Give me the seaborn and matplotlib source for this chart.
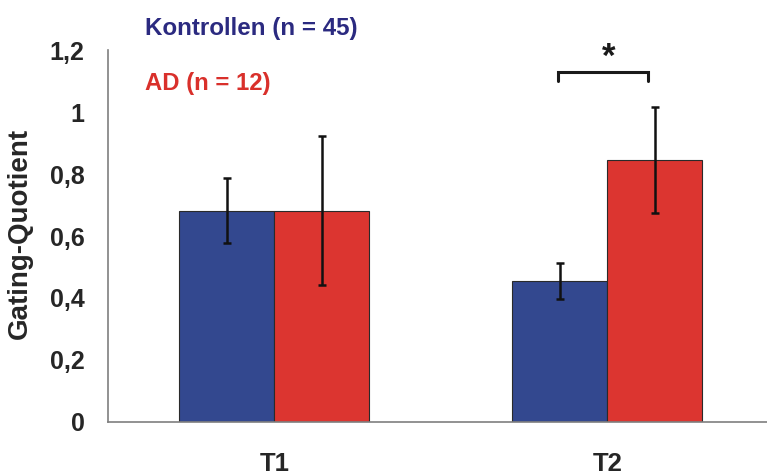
import matplotlib
matplotlib.use("Agg")
import matplotlib.pyplot as plt
import seaborn as sns
import pandas as pd
import numpy as np

# Data
timepoints = ["T1", "T2"]
groups = ["Kontrollen (n = 45)", "AD (n = 12)"]
kontrollen_mean = [0.682, 0.455]
kontrollen_sd = [0.105, 0.058]
ad_mean = [0.682, 0.846]
ad_sd = [0.240, 0.171]
yticks = [0, 0.2, 0.4, 0.6, 0.8, 1.0, 1.2]
ytick_labels = ["0", "0,2", "0,4", "0,6", "0,8", "1", "1,2"]

blue = "#33488f"
red = "#dc3530"
legend_blue = "#2b2a80"
legend_red = "#d9302b"
axis_grey = "#7f7f7f"

df = pd.DataFrame({
    "time": timepoints * 2,
    "group": [groups[0]] * 2 + [groups[1]] * 2,
    "value": kontrollen_mean + ad_mean,
    "sd": kontrollen_sd + ad_sd,
})

sns.set_theme(style="white")
plt.rcParams["font.family"] = ["Liberation Sans", "DejaVu Sans"]
plt.rcParams["font.weight"] = "bold"

fig = plt.figure(figsize=(7.67, 4.76), dpi=100)
ax = fig.add_axes([0.1408, 0.1141, 0.868, 0.7802])

sns.barplot(data=df, x="time", y="value", hue="group", order=timepoints,
            hue_order=groups, palette=[blue, red], width=0.571, gap=0,
            edgecolor="#2a2a2a", linewidth=0.8, errorbar=None, legend=False,
            saturation=1, ax=ax)

# Error bars at the bar centres
for container, grp in zip(ax.containers, groups):
    sub = df[df["group"] == grp].set_index("time").loc[timepoints]
    xs = [p.get_x() + p.get_width() / 2 for p in container.patches]
    ax.errorbar(xs, sub["value"], yerr=sub["sd"], fmt="none",
                ecolor="#111111", elinewidth=1.8, capsize=3, capthick=1.8,
                zorder=5)

ax.set_xlim(-0.5, 1.5)
ax.set_ylim(0, 1.2)
ax.set_yticks(yticks)
ax.set_yticklabels(ytick_labels, fontsize=18, fontweight="bold")
ax.set_xticks([0, 1])
ax.set_xticklabels(timepoints, fontsize=18.5, fontweight="bold")
ax.set_xticks([-0.5, 0.5, 1.5], minor=True)
ax.tick_params(axis="x", which="major", length=0, pad=22)
ax.tick_params(axis="x", which="minor", length=6, width=1.2, color=axis_grey,
               direction="out")
ax.tick_params(axis="y", which="major", length=6, width=1.2, color=axis_grey,
               direction="out", pad=11)
ax.set_xlabel("")
ax.set_ylabel("Gating-Quotient", fontsize=20, fontweight="bold")
ax.yaxis.set_label_coords(-0.1127, 0.508)

for side in ["top", "right"]:
    ax.spines[side].set_visible(False)
for side in ["left", "bottom"]:
    ax.spines[side].set_color(axis_grey)
    ax.spines[side].set_linewidth(1.2)

# Significance bracket at T2
ax.plot([0.851, 0.851, 1.121, 1.121], [1.100, 1.129, 1.129, 1.100],
        color="#1a1a1a", lw=2.2, clip_on=False, solid_joinstyle="miter")
ax.text(1.005, 1.145, "*", ha="center", va="baseline", fontsize=25,
        fontweight="bold", color="#1a1a1a", clip_on=False)

# Group labels
fig.text(0.189, 1 - 35 / 476, groups[0], color=legend_blue, fontsize=17.4,
         fontweight="bold", va="baseline", ha="left")
fig.text(0.189, 1 - 90 / 476, groups[1], color=legend_red, fontsize=17.2,
         fontweight="bold", va="baseline", ha="left")

fig.savefig("out.png", dpi=100)
